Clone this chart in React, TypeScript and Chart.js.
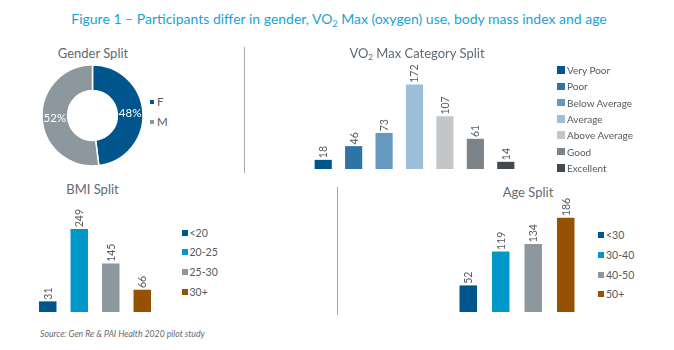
import React, { useEffect, useRef } from "react";
import { Chart, registerables } from "chart.js";

Chart.register(...registerables);

// ---------- data ----------
const genderLabels = ["F", "M"];
const genderValues = [48, 52];

const vo2Labels = ["Very Poor", "Poor", "Below Average", "Average", "Above Average", "Good", "Excellent"];
const vo2Values = [18, 46, 73, 172, 107, 61, 14];

const bmiLabels = ["<20", "20-25", "25-30", "30+"];
const bmiValues = [31, 249, 145, 66];

const ageLabels = ["<30", "30-40", "40-50", "50+"];
const ageValues = [52, 119, 134, 186];

// ---------- styles ----------
const genderColors = ["#00558c", "#8c979e"];
const vo2Colors = ["#00558c", "#2e75a6", "#6599c0", "#9dbfd9", "#c3c6c8", "#7c848a", "#434a4f"];
const groupColors = ["#00558c", "#0098c9", "#8c979e", "#975102"];

const FONT = "Lato, 'Open Sans', sans-serif";
const TEXT = "#555a5e";
const TITLE_GREY = "#5f6a72";

const valueLabelPlugin = {
  id: "valueLabels",
  afterDatasetsDraw(chart: any) {
    const ctx = chart.ctx;
    const meta = chart.getDatasetMeta(0);
    const data = chart.data.datasets[0].data;
    ctx.save();
    ctx.fillStyle = TEXT;
    ctx.font = `10.5px ${FONT}`;
    ctx.textAlign = "left";
    ctx.textBaseline = "middle";
    meta.data.forEach((el: any, i: number) => {
      ctx.save();
      ctx.translate(el.x + 0.5, el.y - 2);
      ctx.rotate(-Math.PI / 2);
      ctx.fillText(String(data[i]), 0, 0);
      ctx.restore();
    });
    ctx.restore();
  },
};

const pctLabelPlugin = {
  id: "pctLabels",
  afterDatasetsDraw(chart: any) {
    const ctx = chart.ctx;
    const meta = chart.getDatasetMeta(0);
    const data = chart.data.datasets[0].data;
    ctx.save();
    ctx.fillStyle = "#ffffff";
    ctx.font = `11.5px ${FONT}`;
    ctx.textAlign = "center";
    ctx.textBaseline = "middle";
    meta.data.forEach((el: any, i: number) => {
      const p = el.tooltipPosition();
      ctx.fillText(`${data[i]}%`, p.x, p.y);
    });
    ctx.restore();
  },
};

function BarPanel(props: {
  left: number; top: number; width: number; height: number;
  labels: string[]; values: number[]; colors: string[]; max: number; thickness: number;
}) {
  const ref = useRef<HTMLCanvasElement>(null);
  useEffect(() => {
    const chart = new Chart(ref.current as HTMLCanvasElement, {
      type: "bar",
      data: {
        labels: props.labels,
        datasets: [{ data: props.values, backgroundColor: props.colors, borderWidth: 0, barThickness: props.thickness }],
      },
      options: {
        responsive: false,
        animation: false,
        events: [],
        layout: { padding: 0 },
        plugins: { legend: { display: false }, tooltip: { enabled: false } },
        scales: {
          x: { display: false, offset: true },
          y: { display: false, min: 0, max: props.max },
        },
      },
      plugins: [valueLabelPlugin],
    } as any);
    return () => chart.destroy();
  }, []);
  return (
    <canvas
      ref={ref}
      width={props.width}
      height={props.height}
      style={{ position: "absolute", left: props.left, top: props.top, width: props.width, height: props.height }}
    />
  );
}

function DonutPanel() {
  const ref = useRef<HTMLCanvasElement>(null);
  useEffect(() => {
    const chart = new Chart(ref.current as HTMLCanvasElement, {
      type: "doughnut",
      data: {
        labels: genderLabels,
        datasets: [{ data: genderValues, backgroundColor: genderColors, borderColor: "#ffffff", borderWidth: 1.5 }],
      },
      options: {
        responsive: false,
        animation: false,
        events: [],
        radius: 50.5,
        cutout: 27,
        layout: { padding: 0 },
        plugins: { legend: { display: false }, tooltip: { enabled: false } },
      },
      plugins: [pctLabelPlugin],
    } as any);
    return () => chart.destroy();
  }, []);
  return (
    <canvas ref={ref} width={111} height={111} style={{ position: "absolute", left: 37, top: 60, width: 111, height: 111 }} />
  );
}

function Legend(props: {
  x: number; y0: number; step: number; square: number; gap: number; fontSize: number;
  labels: string[]; colors: string[];
}) {
  const lh = 14;
  return (
    <>
      {props.labels.map((l, i) => (
        <div
          key={l}
          style={{
            position: "absolute",
            left: props.x,
            top: props.y0 + i * props.step - lh / 2,
            height: lh,
            display: "flex",
            alignItems: "center",
            whiteSpace: "nowrap",
            fontFamily: FONT,
            fontSize: props.fontSize,
            color: TEXT,
            lineHeight: `${lh}px`,
          }}
        >
          <span style={{ display: "inline-block", width: props.square, height: props.square, background: props.colors[i], marginRight: props.gap }} />
          <span>{l}</span>
        </div>
      ))}
    </>
  );
}

function CenterText(props: { cx: number; cy: number; size: number; color: string; children: any }) {
  const lh = 18;
  return (
    <div
      style={{
        position: "absolute",
        left: props.cx - 300,
        width: 600,
        top: props.cy - lh / 2,
        lineHeight: `${lh}px`,
        textAlign: "center",
        fontFamily: FONT,
        fontSize: props.size,
        color: props.color,
        whiteSpace: "nowrap",
      }}
    >
      {props.children}
    </div>
  );
}

const Sub = (p: { children: any }) => (
  <span style={{ fontSize: "0.62em", verticalAlign: "-0.3em", lineHeight: 0 }}>{p.children}</span>
);

export default function App() {
  return (
    <div style={{ position: "absolute", left: 0, top: 0, width: 674, height: 350, background: "#ffffff", overflow: "hidden" }}>
      <CenterText cx={339} cy={19} size={14} color="#1ba3d3">
        Figure 1 – Participants differ in gender, VO<Sub>2</Sub> Max (oxygen) use, body mass index and age
      </CenterText>

      {/* Gender */}
      <CenterText cx={93} cy={53} size={13} color={TITLE_GREY}>Gender Split</CenterText>
      <DonutPanel />
      <Legend x={150} y0={102} step={20} square={4} gap={3} fontSize={11.5} labels={genderLabels} colors={genderColors} />

      {/* separator */}
      <div style={{ position: "absolute", left: 243.5, top: 47, width: 1.5, height: 126, background: "#a3a8ac" }} />

      {/* VO2 */}
      <CenterText cx={417} cy={53} size={13} color={TITLE_GREY}>
        VO<Sub>2</Sub> Max Category Split
      </CenterText>
      <BarPanel left={308} top={55} width={213} height={114} labels={vo2Labels} values={vo2Values} colors={vo2Colors} max={232.7} thickness={16.5} />
      <Legend x={557} y0={70} step={16.3} square={7.5} gap={2.5} fontSize={10} labels={vo2Labels} colors={vo2Colors} />

      {/* BMI */}
      <CenterText cx={92.5} cy={189} size={13} color={TITLE_GREY}>BMI Split</CenterText>
      <BarPanel left={32} top={200} width={126} height={112} labels={bmiLabels} values={bmiValues} colors={groupColors} max={337} thickness={16.8} />
      <Legend x={181.5} y0={232.7} step={19.7} square={6} gap={2} fontSize={10.5} labels={bmiLabels} colors={groupColors} />

      {/* separator */}
      <div style={{ position: "absolute", left: 336.5, top: 187, width: 1.5, height: 128, background: "#a3a8ac" }} />

      {/* Age */}
      <CenterText cx={528} cy={192} size={13} color={TITLE_GREY}>Age Split</CenterText>
      <BarPanel left={452} top={190} width={130} height={122} labels={ageLabels} values={ageValues} colors={groupColors} max={241.6} thickness={16.8} />
      <Legend x={598} y0={235} step={19.8} square={6} gap={2} fontSize={10.5} labels={ageLabels} colors={groupColors} />

      {/* Source */}
      <div
        style={{
          position: "absolute",
          left: 40,
          top: 327,
          lineHeight: "14px",
          fontFamily: FONT,
          fontStyle: "italic",
          fontSize: 8.7,
          color: "#666b6f",
          whiteSpace: "nowrap",
        }}
      >
        Source: Gen Re &amp; PAI Health 2020 pilot study
      </div>
    </div>
  );
}
